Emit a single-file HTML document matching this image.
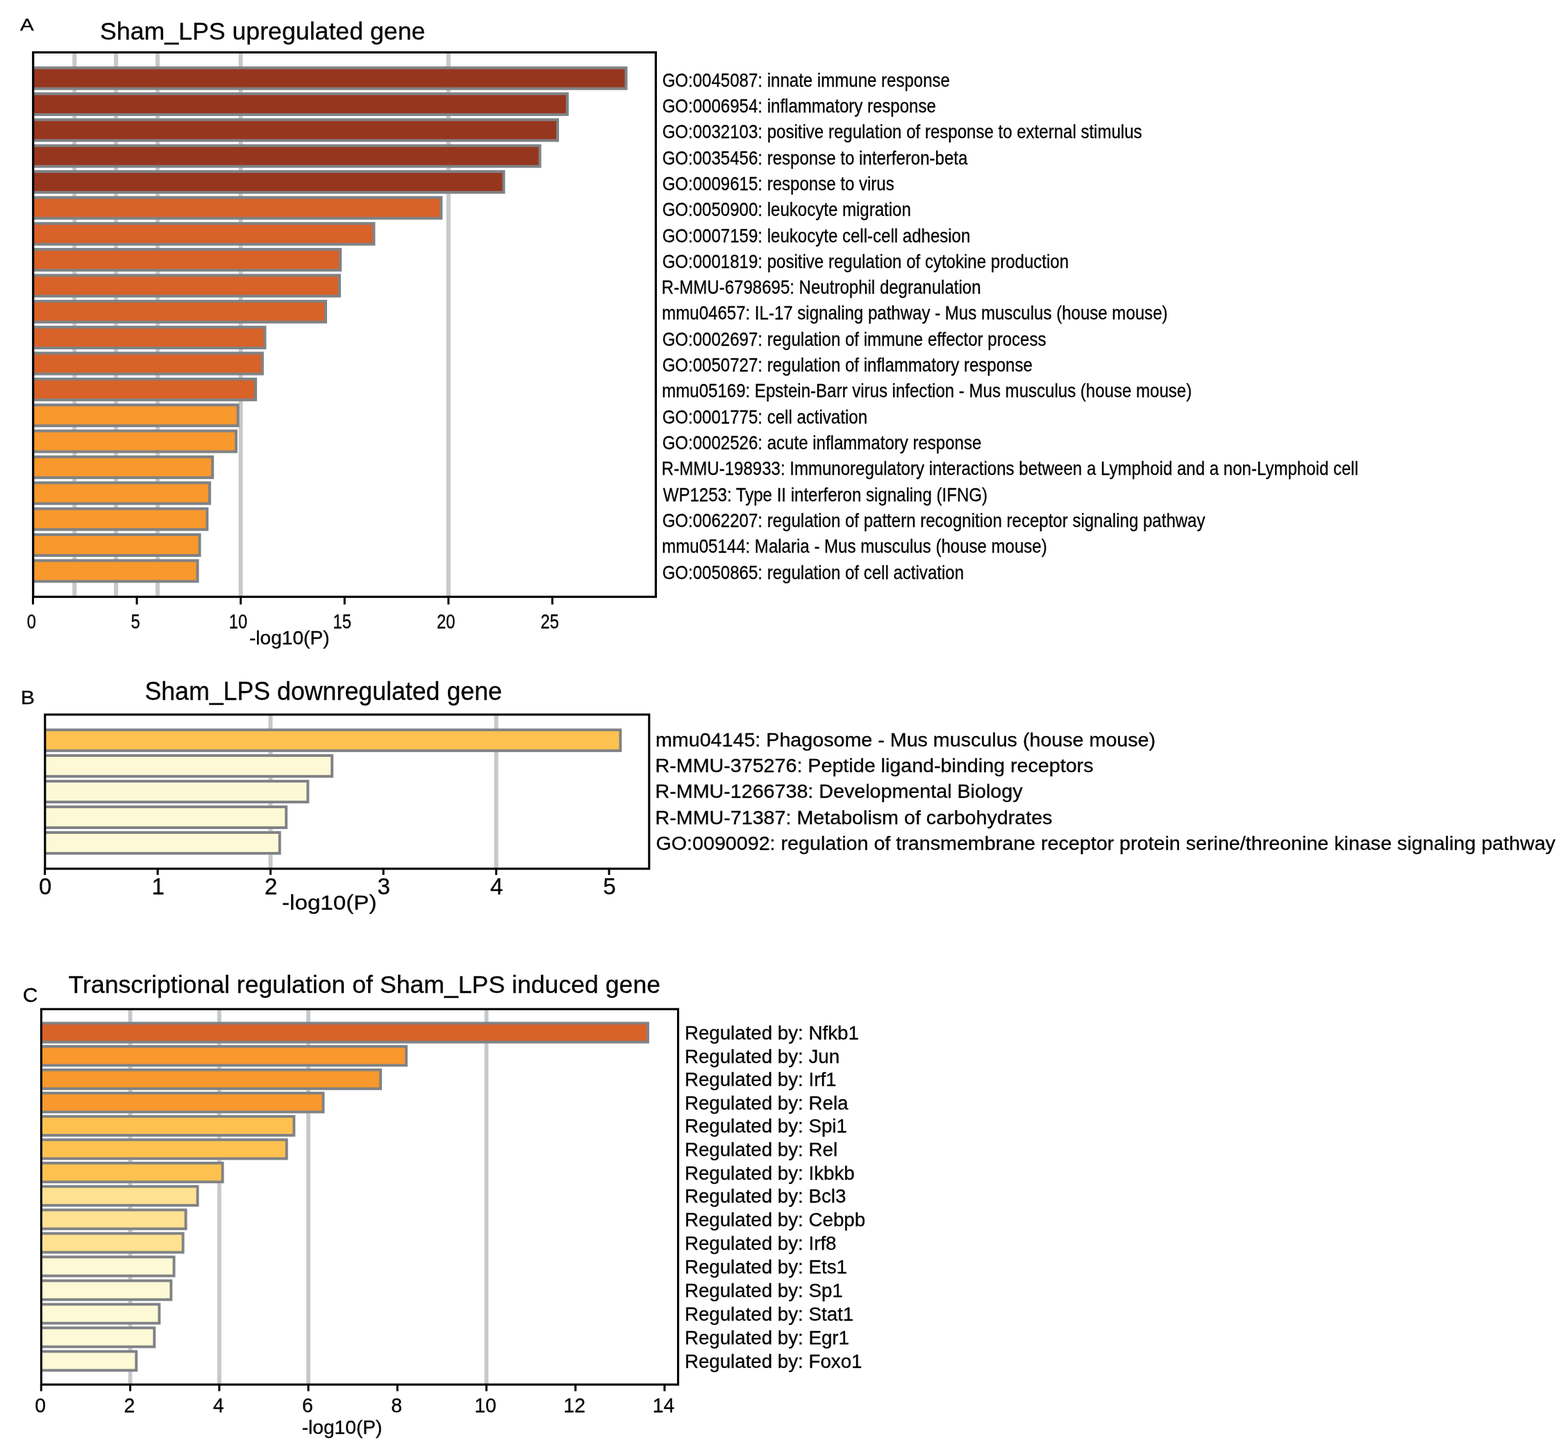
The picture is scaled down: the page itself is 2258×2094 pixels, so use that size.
<!DOCTYPE html>
<html lang="en">
<head>
<meta charset="utf-8">
<title>Sham_LPS enrichment bar charts</title>
<style>
html, body { margin: 0; padding: 0; background: #ffffff; }
body { width: 2258px; height: 2094px; overflow: hidden; }
svg { display: block; }
text { font-family: "Liberation Sans", Arial, Helvetica, sans-serif; white-space: pre; fill: #000; stroke: #000; stroke-width: 0.3px; stroke-linejoin: round; }
</style>
</head>
<body>
<svg width="2258" height="2094" viewBox="0 0 2258 2094" role="img" aria-label="Enrichment bar charts for Sham_LPS regulated genes">
<rect x="0" y="0" width="2258" height="2094" fill="#ffffff"/>
<g id="panel-A">
<g class="grid" fill="#c7c8ca">
<rect x="104.3" y="75.4" width="6" height="784.1"/>
<rect x="164.14" y="75.4" width="6" height="784.1"/>
<rect x="223.97" y="75.4" width="6" height="784.1"/>
<rect x="343.64" y="75.4" width="6" height="784.1"/>
<rect x="642.81" y="75.4" width="6" height="784.1"/>
</g>
<g class="bars">
<rect x="47.7" y="95.65" width="855.9" height="34" fill="#808285"/>
<rect x="47.7" y="99.65" width="851.9" height="26" fill="#97361f"/>
<rect x="47.7" y="133" width="771.3" height="34" fill="#808285"/>
<rect x="47.7" y="137" width="767.3" height="26" fill="#97361f"/>
<rect x="47.7" y="170.35" width="757.3" height="34" fill="#808285"/>
<rect x="47.7" y="174.35" width="753.3" height="26" fill="#97361f"/>
<rect x="47.7" y="207.7" width="731.8" height="34" fill="#808285"/>
<rect x="47.7" y="211.7" width="727.8" height="26" fill="#97361f"/>
<rect x="47.7" y="245.05" width="679.7" height="34" fill="#808285"/>
<rect x="47.7" y="249.05" width="675.7" height="26" fill="#97361f"/>
<rect x="47.7" y="282.4" width="589.6" height="34" fill="#808285"/>
<rect x="47.7" y="286.4" width="585.6" height="26" fill="#d86228"/>
<rect x="47.7" y="319.75" width="492.7" height="34" fill="#808285"/>
<rect x="47.7" y="323.75" width="488.7" height="26" fill="#d86228"/>
<rect x="47.7" y="357.1" width="444.4" height="34" fill="#808285"/>
<rect x="47.7" y="361.1" width="440.4" height="26" fill="#d86228"/>
<rect x="47.7" y="394.45" width="443.2" height="34" fill="#808285"/>
<rect x="47.7" y="398.45" width="439.2" height="26" fill="#d86228"/>
<rect x="47.7" y="431.8" width="423.3" height="34" fill="#808285"/>
<rect x="47.7" y="435.8" width="419.3" height="26" fill="#d86228"/>
<rect x="47.7" y="469.15" width="335.8" height="34" fill="#808285"/>
<rect x="47.7" y="473.15" width="331.8" height="26" fill="#d86228"/>
<rect x="47.7" y="506.5" width="332.2" height="34" fill="#808285"/>
<rect x="47.7" y="510.5" width="328.2" height="26" fill="#d86228"/>
<rect x="47.7" y="543.85" width="322.4" height="34" fill="#808285"/>
<rect x="47.7" y="547.85" width="318.4" height="26" fill="#d86228"/>
<rect x="47.7" y="581.2" width="296.9" height="34" fill="#808285"/>
<rect x="47.7" y="585.2" width="292.9" height="26" fill="#f8982d"/>
<rect x="47.7" y="618.55" width="294.3" height="34" fill="#808285"/>
<rect x="47.7" y="622.55" width="290.3" height="26" fill="#f8982d"/>
<rect x="47.7" y="655.9" width="260.4" height="34" fill="#808285"/>
<rect x="47.7" y="659.9" width="256.4" height="26" fill="#f8982d"/>
<rect x="47.7" y="693.25" width="256.2" height="34" fill="#808285"/>
<rect x="47.7" y="697.25" width="252.2" height="26" fill="#f8982d"/>
<rect x="47.7" y="730.6" width="252.6" height="34" fill="#808285"/>
<rect x="47.7" y="734.6" width="248.6" height="26" fill="#f8982d"/>
<rect x="47.7" y="767.95" width="241.8" height="34" fill="#808285"/>
<rect x="47.7" y="771.95" width="237.8" height="26" fill="#f8982d"/>
<rect x="47.7" y="805.3" width="238.8" height="34" fill="#808285"/>
<rect x="47.7" y="809.3" width="234.8" height="26" fill="#f8982d"/>
</g>
<rect x="47.7" y="75.4" width="896.7" height="784.1" fill="none" stroke="#000" stroke-width="3.2"/>
<g class="ticks" fill="#000">
<rect x="45.97" y="859.5" width="3" height="11"/>
<rect x="195.56" y="859.5" width="3" height="11"/>
<rect x="345.14" y="859.5" width="3" height="11"/>
<rect x="494.73" y="859.5" width="3" height="11"/>
<rect x="644.31" y="859.5" width="3" height="11"/>
<rect x="793.9" y="859.5" width="3" height="11"/>
</g>
<g class="ticklabels">
<text transform="translate(38.82 904.5) scale(0.8100 1.0000)" font-size="29.3">0</text>
<text transform="translate(188.41 904.5) scale(0.8100 1.0000)" font-size="29.3">5</text>
<text transform="translate(329.84 904.5) scale(0.8100 1.0000)" font-size="29.3">10</text>
<text transform="translate(479.43 904.5) scale(0.8100 1.0000)" font-size="29.3">15</text>
<text transform="translate(629.01 904.5) scale(0.8100 1.0000)" font-size="29.3">20</text>
<text transform="translate(778.6 904.5) scale(0.8100 1.0000)" font-size="29.3">25</text>
</g>
<text transform="translate(358.93 928) scale(1.0224 1.0000)" font-size="27.5">-log10(P)</text>
<text transform="translate(143.99 57.4) scale(0.9918 1.0000)" font-size="36">Sham_LPS upregulated gene</text>
<text transform="translate(29.03 43.9) scale(1.2327 1.0000)" font-size="24">A</text>
<g class="labels">
<text transform="translate(953.65 124.65) scale(0.8715 1.0000)" font-size="27.6">GO:0045087: innate immune response</text>
<text transform="translate(953.65 161.96) scale(0.8715 1.0000)" font-size="27.6">GO:0006954: inflammatory response</text>
<text transform="translate(953.65 199.27) scale(0.8715 1.0000)" font-size="27.6">GO:0032103: positive regulation of response to external stimulus</text>
<text transform="translate(953.65 236.58) scale(0.8715 1.0000)" font-size="27.6">GO:0035456: response to interferon-beta</text>
<text transform="translate(953.65 273.89) scale(0.8715 1.0000)" font-size="27.6">GO:0009615: response to virus</text>
<text transform="translate(953.65 311.2) scale(0.8715 1.0000)" font-size="27.6">GO:0050900: leukocyte migration</text>
<text transform="translate(953.65 348.51) scale(0.8715 1.0000)" font-size="27.6">GO:0007159: leukocyte cell-cell adhesion</text>
<text transform="translate(953.65 385.82) scale(0.8715 1.0000)" font-size="27.6">GO:0001819: positive regulation of cytokine production</text>
<text transform="translate(952.87 423.13) scale(0.8715 1.0000)" font-size="27.6">R-MMU-6798695: Neutrophil degranulation</text>
<text transform="translate(953.23 460.44) scale(0.8715 1.0000)" font-size="27.6">mmu04657: IL-17 signaling pathway - Mus musculus (house mouse)</text>
<text transform="translate(953.65 497.75) scale(0.8715 1.0000)" font-size="27.6">GO:0002697: regulation of immune effector process</text>
<text transform="translate(953.65 535.06) scale(0.8715 1.0000)" font-size="27.6">GO:0050727: regulation of inflammatory response</text>
<text transform="translate(953.23 572.37) scale(0.8715 1.0000)" font-size="27.6">mmu05169: Epstein-Barr virus infection - Mus musculus (house mouse)</text>
<text transform="translate(953.65 609.68) scale(0.8715 1.0000)" font-size="27.6">GO:0001775: cell activation</text>
<text transform="translate(953.65 646.99) scale(0.8715 1.0000)" font-size="27.6">GO:0002526: acute inflammatory response</text>
<text transform="translate(952.87 684.3) scale(0.8715 1.0000)" font-size="27.6">R-MMU-198933: Immunoregulatory interactions between a Lymphoid and a non-Lymphoid cell</text>
<text transform="translate(954.73 721.61) scale(0.8715 1.0000)" font-size="27.6">WP1253: Type II interferon signaling (IFNG)</text>
<text transform="translate(953.65 758.92) scale(0.8715 1.0000)" font-size="27.6">GO:0062207: regulation of pattern recognition receptor signaling pathway</text>
<text transform="translate(953.23 796.23) scale(0.8715 1.0000)" font-size="27.6">mmu05144: Malaria - Mus musculus (house mouse)</text>
<text transform="translate(953.65 833.54) scale(0.8715 1.0000)" font-size="27.6">GO:0050865: regulation of cell activation</text>
</g>
</g>
<g id="panel-B">
<g class="grid" fill="#c7c8ca">
<rect x="386.6" y="1029.1" width="6" height="222"/>
<rect x="711.6" y="1029.1" width="6" height="222"/>
</g>
<g class="bars">
<rect x="64.8" y="1049.2" width="830.6" height="33.9" fill="#808285"/>
<rect x="64.8" y="1053.1" width="826.7" height="26.1" fill="#fdc150"/>
<rect x="64.8" y="1086.15" width="415.3" height="33.9" fill="#808285"/>
<rect x="64.8" y="1090.05" width="411.4" height="26.1" fill="#fdf9d6"/>
<rect x="64.8" y="1123.1" width="380.5" height="33.9" fill="#808285"/>
<rect x="64.8" y="1127" width="376.6" height="26.1" fill="#fdf9d6"/>
<rect x="64.8" y="1160.05" width="349.3" height="33.9" fill="#808285"/>
<rect x="64.8" y="1163.95" width="345.4" height="26.1" fill="#fdf9d6"/>
<rect x="64.8" y="1197" width="339.9" height="33.9" fill="#808285"/>
<rect x="64.8" y="1200.9" width="336" height="26.1" fill="#fdf9d6"/>
</g>
<rect x="64.8" y="1029.1" width="870" height="222" fill="none" stroke="#000" stroke-width="3.1"/>
<g class="ticks" fill="#000">
<rect x="63.1" y="1251.1" width="3" height="9"/>
<rect x="225.6" y="1251.1" width="3" height="9"/>
<rect x="388.1" y="1251.1" width="3" height="9"/>
<rect x="550.6" y="1251.1" width="3" height="9"/>
<rect x="713.1" y="1251.1" width="3" height="9"/>
<rect x="875.6" y="1251.1" width="3" height="9"/>
</g>
<g class="ticklabels">
<text x="55.92" y="1288" font-size="33">0</text>
<text x="218.42" y="1288" font-size="33">1</text>
<text x="380.92" y="1288" font-size="33">2</text>
<text x="543.42" y="1288" font-size="33">3</text>
<text x="705.92" y="1288" font-size="33">4</text>
<text x="868.42" y="1288" font-size="33">5</text>
</g>
<text transform="translate(406.01 1310) scale(1.0996 1.0000)" font-size="30.2">-log10(P)</text>
<text transform="translate(208.39 1007.9) scale(0.9929 1.0000)" font-size="36">Sham_LPS downregulated gene</text>
<text transform="translate(29.85 1014.3) scale(1.0717 1.0000)" font-size="28.3">B</text>
<g class="labels">
<text transform="translate(943.96 1075.2) scale(1.0542 1.0000)" font-size="27.2">mmu04145: Phagosome - Mus musculus (house mouse)</text>
<text transform="translate(943.53 1112.3) scale(1.0542 1.0000)" font-size="27.2">R-MMU-375276: Peptide ligand-binding receptors</text>
<text transform="translate(943.53 1149.4) scale(1.0542 1.0000)" font-size="27.2">R-MMU-1266738: Developmental Biology</text>
<text transform="translate(943.53 1186.5) scale(1.0542 1.0000)" font-size="27.2">R-MMU-71387: Metabolism of carbohydrates</text>
<text transform="translate(944.47 1223.6) scale(1.0542 1.0000)" font-size="27.2">GO:0090092: regulation of transmembrane receptor protein serine/threonine kinase signaling pathway</text>
</g>
</g>
<g id="panel-C">
<g class="grid" fill="#c7c8ca">
<rect x="184.64" y="1453.3" width="5.8" height="540.7"/>
<rect x="312.88" y="1453.3" width="5.8" height="540.7"/>
<rect x="441.12" y="1453.3" width="5.8" height="540.7"/>
<rect x="697.6" y="1453.3" width="5.8" height="540.7"/>
</g>
<g class="bars">
<rect x="59.4" y="1471.6" width="875.5" height="31.1" fill="#808285"/>
<rect x="59.4" y="1475.5" width="871.6" height="23.3" fill="#d86228"/>
<rect x="59.4" y="1505.09" width="527.6" height="31.1" fill="#808285"/>
<rect x="59.4" y="1508.99" width="523.7" height="23.3" fill="#f8982d"/>
<rect x="59.4" y="1538.78" width="490.6" height="31.1" fill="#808285"/>
<rect x="59.4" y="1542.68" width="486.7" height="23.3" fill="#f8982d"/>
<rect x="59.4" y="1572.27" width="408" height="31.1" fill="#808285"/>
<rect x="59.4" y="1576.17" width="404.1" height="23.3" fill="#f8982d"/>
<rect x="59.4" y="1605.86" width="365.9" height="31.1" fill="#808285"/>
<rect x="59.4" y="1609.76" width="362" height="23.3" fill="#fdc150"/>
<rect x="59.4" y="1639.45" width="355.3" height="31.1" fill="#808285"/>
<rect x="59.4" y="1643.35" width="351.4" height="23.3" fill="#fdc150"/>
<rect x="59.4" y="1673.04" width="263.1" height="31.1" fill="#808285"/>
<rect x="59.4" y="1676.94" width="259.2" height="23.3" fill="#fdc150"/>
<rect x="59.4" y="1706.73" width="227.1" height="31.1" fill="#808285"/>
<rect x="59.4" y="1710.63" width="223.2" height="23.3" fill="#fee291"/>
<rect x="59.4" y="1740.52" width="210.1" height="31.1" fill="#808285"/>
<rect x="59.4" y="1744.42" width="206.2" height="23.3" fill="#fee291"/>
<rect x="59.4" y="1774.41" width="206.1" height="31.1" fill="#808285"/>
<rect x="59.4" y="1778.31" width="202.2" height="23.3" fill="#fee291"/>
<rect x="59.4" y="1808.3" width="193.1" height="31.1" fill="#808285"/>
<rect x="59.4" y="1812.2" width="189.2" height="23.3" fill="#fdf9d6"/>
<rect x="59.4" y="1842.49" width="188.9" height="31.1" fill="#808285"/>
<rect x="59.4" y="1846.39" width="185" height="23.3" fill="#fdf9d6"/>
<rect x="59.4" y="1876.48" width="171.9" height="31.1" fill="#808285"/>
<rect x="59.4" y="1880.38" width="168" height="23.3" fill="#fdf9d6"/>
<rect x="59.4" y="1910.42" width="164.8" height="31.1" fill="#808285"/>
<rect x="59.4" y="1914.32" width="160.9" height="23.3" fill="#fdf9d6"/>
<rect x="59.4" y="1944.36" width="138.8" height="31.1" fill="#808285"/>
<rect x="59.4" y="1948.26" width="134.9" height="23.3" fill="#fdf9d6"/>
</g>
<rect x="59.4" y="1453.3" width="917.1" height="540.7" fill="none" stroke="#000" stroke-width="3.1"/>
<g class="ticks" fill="#000">
<rect x="57.8" y="1994" width="3" height="9.5"/>
<rect x="186.04" y="1994" width="3" height="9.5"/>
<rect x="314.28" y="1994" width="3" height="9.5"/>
<rect x="442.52" y="1994" width="3" height="9.5"/>
<rect x="570.76" y="1994" width="3" height="9.5"/>
<rect x="699" y="1994" width="3" height="9.5"/>
<rect x="827.24" y="1994" width="3" height="9.5"/>
<rect x="955.48" y="1994" width="3" height="9.5"/>
</g>
<g class="ticklabels">
<text transform="translate(50.29 2034) scale(0.9500 1.0000)" font-size="29.9">0</text>
<text transform="translate(178.53 2034) scale(0.9500 1.0000)" font-size="29.9">2</text>
<text transform="translate(306.77 2034) scale(0.9500 1.0000)" font-size="29.9">4</text>
<text transform="translate(435.01 2034) scale(0.9500 1.0000)" font-size="29.9">6</text>
<text transform="translate(563.25 2034) scale(0.9500 1.0000)" font-size="29.9">8</text>
<text transform="translate(683.17 2034) scale(0.9500 1.0000)" font-size="29.9">10</text>
<text transform="translate(811.41 2034) scale(0.9500 1.0000)" font-size="29.9">12</text>
<text transform="translate(939.65 2034) scale(0.9500 1.0000)" font-size="29.9">14</text>
</g>
<text transform="translate(434.63 2064.7) scale(1.0288 1.0000)" font-size="27.4">-log10(P)</text>
<text transform="translate(98.6 1430.4) scale(0.9901 1.0000)" font-size="36">Transcriptional regulation of Sham_LPS induced gene</text>
<text transform="translate(32.7 1443.2) scale(1.0183 1.0000)" font-size="29.5">C</text>
<g class="labels">
<text transform="translate(985.91 1497.1) scale(0.9893 1.0000)" font-size="28">Regulated by: Nfkb1</text>
<text transform="translate(985.91 1530.59) scale(0.9893 1.0000)" font-size="28">Regulated by: Jun</text>
<text transform="translate(985.91 1564.28) scale(0.9893 1.0000)" font-size="28">Regulated by: Irf1</text>
<text transform="translate(985.91 1597.77) scale(0.9893 1.0000)" font-size="28">Regulated by: Rela</text>
<text transform="translate(985.91 1631.36) scale(0.9893 1.0000)" font-size="28">Regulated by: Spi1</text>
<text transform="translate(985.91 1664.95) scale(0.9893 1.0000)" font-size="28">Regulated by: Rel</text>
<text transform="translate(985.91 1698.54) scale(0.9893 1.0000)" font-size="28">Regulated by: Ikbkb</text>
<text transform="translate(985.91 1732.23) scale(0.9893 1.0000)" font-size="28">Regulated by: Bcl3</text>
<text transform="translate(985.91 1766.02) scale(0.9893 1.0000)" font-size="28">Regulated by: Cebpb</text>
<text transform="translate(985.91 1799.91) scale(0.9893 1.0000)" font-size="28">Regulated by: Irf8</text>
<text transform="translate(985.91 1833.8) scale(0.9893 1.0000)" font-size="28">Regulated by: Ets1</text>
<text transform="translate(985.91 1867.99) scale(0.9893 1.0000)" font-size="28">Regulated by: Sp1</text>
<text transform="translate(985.91 1901.98) scale(0.9893 1.0000)" font-size="28">Regulated by: Stat1</text>
<text transform="translate(985.91 1935.92) scale(0.9893 1.0000)" font-size="28">Regulated by: Egr1</text>
<text transform="translate(985.91 1969.86) scale(0.9893 1.0000)" font-size="28">Regulated by: Foxo1</text>
</g>
</g>
</svg>
</body>
</html>
